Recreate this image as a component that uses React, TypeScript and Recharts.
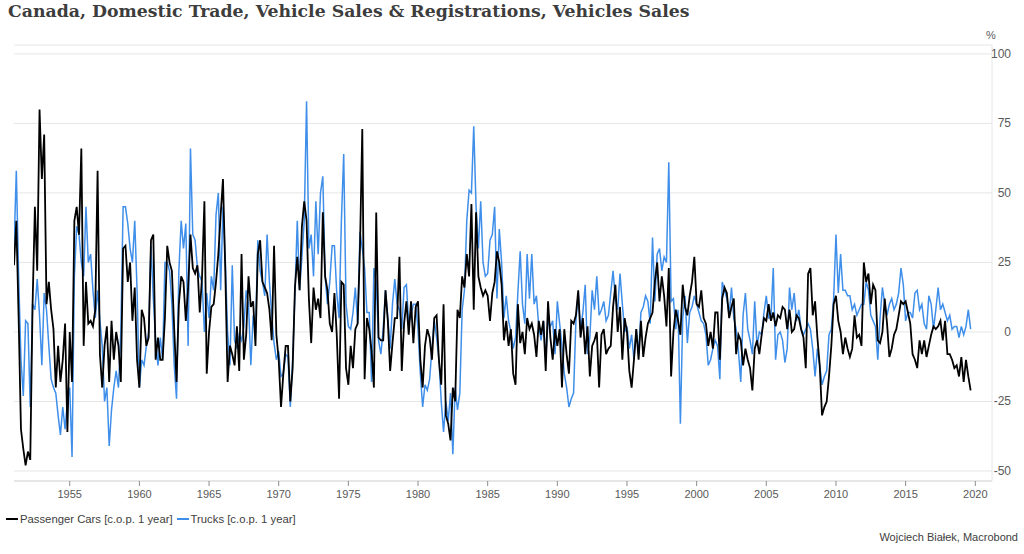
import { LineChart, Line, XAxis, YAxis, CartesianGrid } from 'recharts'

// monthly-ish series sampled every two months, starting Jan 1951
const START_YEAR = 1951
const STEPS_PER_YEAR = 6

// Passenger Cars [c.o.p. 1 year], %
const passengerCars = [
  24, 40, 5, -35, -42, -48, // 1951
  -43, -46, 10, 45, 22, 80, // 1952
  55, 71, 10, 18, 8, 1, // 1953
  -20, -5, -18, -10, 3, -36, // 1954
  0, -18, 40, 45, 35, 66, // 1955
  -5, 18, 3, 4, 2, 8, // 1956
  58, -8, -20, -5, 2, -18, // 1957
  4, -10, 0, -5, -18, 30, // 1958
  31, 18, 25, 4, 16, -10, // 1959
  -20, 8, 5, -5, -2, 33, // 1960
  35, -10, -2, -10, -10, 5, // 1961
  31, 25, 22, 1, -18, 10, // 1962
  20, 18, 4, 16, 35, 23, // 1963
  21, 24, 7, 20, 47, -15, // 1964
  0, 9, 10, 18, 28, 42, // 1965
  55, 22, -18, -5, -8, -12, // 1966
  2, -14, 28, -10, -1, 20, // 1967
  9, 11, -5, 28, 33, 18, // 1968
  16, 14, 8, -3, 31, -1, // 1969
  -10, -27, -15, -5, -5, -25, // 1970
  -13, 16, 27, 15, 38, 47, // 1971
  40, 12, -4, 16, 8, 12, // 1972
  5, 43, 20, 15, 3, 0, // 1973
  14, -1, -24, 18, 17, -13, // 1974
  -19, -5, -13, 1, 3, 30, // 1975
  73, -17, 5, 1, -7, -20, // 1976
  43, -2, -3, -3, 15, 4, // 1977
  -14, -4, 5, 5, 27, -14, // 1978
  3, 11, -1, 11, -4, 9, // 1979
  11, -10, -20, -5, 1, -2, // 1980
  -10, 5, 6, -10, -19, 10, // 1981
  -30, -33, -39, -20, -25, 8, // 1982
  5, 20, 16, 28, 20, 46, // 1983
  8, 43, 20, 16, 13, 15, // 1984
  13, 4, 14, 18, 29, 25, // 1985
  17, -3, 4, -5, 1, -15, // 1986
  -19, 10, -4, 0, -8, 5, // 1987
  1, 3, -1, -9, 4, -1, // 1988
  4, -14, 11, -2, -10, 1, // 1989
  -5, 1, -20, 1, -8, -15, // 1990
  4, 3, 6, 15, -2, 5, // 1991
  -8, 2, -16, -5, -3, 0, // 1992
  -20, -1, 1, -8, -6, -5, // 1993
  9, 17, 0, 9, -10, 5, // 1994
  0, -14, -20, -10, 1, -10, // 1995
  4, -9, -2, 3, 5, 7, // 1996
  18, 25, 11, 20, 13, 2, // 1997
  23, -16, 0, 8, 4, -1, // 1998
  17, 9, 6, 13, 18, 27, // 1999
  10, 9, 15, 5, 3, -5, // 2000
  0, -6, 7, 7, -10, 12, // 2001
  16, 14, 5, 9, 12, -8, // 2002
  -1, -3, -12, -6, -10, -13, // 2003
  -21, -6, -3, -8, -1, 5, // 2004
  4, 10, 4, 7, 2, 6, // 2005
  5, 9, 8, 1, 8, 0, // 2006
  1, 6, 5, 1, -2, -13, // 2007
  21, 23, 6, 11, -2, -12, // 2008
  -30, -27, -25, -16, -5, 10, // 2009
  13, 4, 0, -8, -2, -6, // 2010
  -9, -6, 6, -2, -1, -5, // 2011
  25, 18, 21, 10, 17, 15, // 2012
  -3, -4, 0, 12, 3, -9, // 2013
  -6, -1, 1, 6, 11, 10, // 2014
  11, 7, 3, -8, -10, -13, // 2015
  -3, -8, -3, -9, -5, -1, // 2016
  2, 1, 2, 4, -3, 4, // 2017
  -8, -8, -10, -13, -12, -16, // 2018
  -9, -18, -10, -16, -21, // 2019
]

// Trucks [c.o.p. 1 year], %
const trucks = [
  30, 58, 20, -10, -23, 4, // 1951
  3, -27, 10, 8, 19, 6, // 1952
  -12, 14, 8, -5, -17, -20, // 1953
  -22, -30, -37, -27, -35, -25, // 1954
  -20, -45, 20, 38, 35, 25, // 1955
  20, 45, 25, 28, 15, 5, // 1956
  15, 4, -5, -25, -20, -41, // 1957
  -28, -20, -14, -20, 0, 45, // 1958
  45, 39, 30, 25, 40, 15, // 1959
  -20, -10, -12, -5, 0, 31, // 1960
  12, -3, -12, -2, -10, 25, // 1961
  25, 22, 10, -12, -24, 22, // 1962
  40, 30, 39, -5, 66, 35, // 1963
  33, 23, 20, 18, 0, 14, // 1964
  5, 20, 15, 42, 50, 15, // 1965
  45, 26, 0, -12, 24, -3, // 1966
  -6, -1, -3, 2, 15, 10, // 1967
  -12, 6, -1, 33, 22, 18, // 1968
  13, 35, 18, 6, -4, -10, // 1969
  -7, -16, -15, -8, -9, -27, // 1970
  -10, 14, 40, 15, 27, 40, // 1971
  83, 30, 35, 20, 47, 28, // 1972
  50, 56, 20, 10, 18, 31, // 1973
  31, 14, 5, 40, 64, 10, // 1974
  2, 1, 7, 16, 3, 36, // 1975
  30, 23, 7, 7, -18, 23, // 1976
  18, -3, -8, 1, 15, 5, // 1977
  -6, 10, 19, 10, 8, 1, // 1978
  16, 17, 3, 6, 10, 10, // 1979
  1, -15, -27, -19, -21, -17, // 1980
  -6, 4, -2, -10, -25, -36, // 1981
  -25, -32, -22, -44, -20, -28, // 1982
  -22, 8, 15, 40, 51, 50, // 1983
  74, 45, 30, 47, 25, 20, // 1984
  21, 33, 35, 45, 12, 37, // 1985
  25, 5, 13, 4, 0, -6, // 1986
  -2, 14, 29, 10, 3, 28, // 1987
  12, 28, 10, 13, 2, -3, // 1988
  4, -10, 4, 2, 4, -8, // 1989
  11, 3, -5, -15, -20, -27, // 1990
  -24, -22, 4, 14, 1, 7, // 1991
  17, -8, -2, 15, 8, 20, // 1992
  6, 8, 11, 4, 6, 14, // 1993
  22, 12, 8, 21, 10, 0, // 1994
  2, -6, -1, -10, 1, -8, // 1995
  7, 9, 13, 11, 3, 34, // 1996
  11, 28, 30, 22, 27, 25, // 1997
  61, 11, 12, 1, 8, -33, // 1998
  5, 13, -4, 7, 9, 13, // 1999
  10, 7, 4, 3, -1, -12, // 2000
  -10, -6, -3, -5, -17, 18, // 2001
  15, 12, 6, 16, 5, 1, // 2002
  -7, -18, 6, 14, 1, -3, // 2003
  -8, 11, -5, 0, -1, 7, // 2004
  13, 5, 5, 23, -10, -1, // 2005
  0, -3, -11, -6, 16, 8, // 2006
  14, 4, 8, 1, -1, 1, // 2007
  3, 1, -6, -16, -6, -12, // 2008
  -19, -16, -14, -1, 1, 12, // 2009
  35, 14, 28, 15, 15, 13, // 2010
  13, 8, 10, 6, 8, 10, // 2011
  10, 18, 15, 6, 4, 2, // 2012
  -10, 5, 16, 10, 6, 10, // 2013
  12, 8, 10, 14, 23, 17, // 2014
  4, 7, 7, 5, 14, 15, // 2015
  8, 10, 3, 1, 13, 10, // 2016
  1, 8, 16, 8, 10, 7, // 2017
  4, 6, 1, 2, 2, -2, // 2018
  2, -1, 2, 8, 1, // 2019
]

const yearTicks = [1955, 1960, 1965, 1970, 1975, 1980, 1985, 1990, 1995, 2000, 2005, 2010, 2015, 2020]
const valueTicks = [-50, -25, 0, 25, 50, 75, 100]

const data = passengerCars.map((cars, i) => ({
  date: START_YEAR + i / STEPS_PER_YEAR,
  cars,
  trucks: trucks[i],
}))

const FONT = '"Liberation Sans", Arial, sans-serif'
const TEXT = '#595959'
const BLUE = '#3f8fea'

function YearTick({ x, y, payload }: any) {
  return (
    <text x={x} y={y + 10} textAnchor="middle" fontSize={11} fill={TEXT} fontFamily={FONT}>
      {payload.value}
    </text>
  )
}

function ValueTick({ x, y, payload }: any) {
  return (
    <text x={x + 11} y={y + 4} textAnchor="end" fontSize={12} fill={TEXT} fontFamily={FONT}>
      {payload.value}
    </text>
  )
}

function LegendItem({ color, label }: { color: string; label: string }) {
  return (
    <span style={{ display: 'inline-flex', alignItems: 'center', marginRight: 4 }}>
      <span style={{ display: 'inline-block', width: 12, height: 2, background: color, marginRight: 2 }} />
      {label}
    </span>
  )
}

export default function App() {
  return (
    <div style={{ position: 'absolute', left: 0, top: 0, width: 1024, height: 554, background: '#fff', fontFamily: FONT }}>
      <div
        style={{
          position: 'absolute',
          left: 8,
          top: 1,
          fontFamily: '"DejaVu Serif", Georgia, serif',
          fontWeight: 'bold',
          fontSize: 17.3,
          color: '#3d3d3d',
          whiteSpace: 'nowrap',
        }}
      >
        Canada, Domestic Trade, Vehicle Sales &amp; Registrations, Vehicles Sales
      </div>
      <div style={{ position: 'absolute', left: 986, top: 29, fontSize: 11, color: TEXT }}>%</div>

      <LineChart
        width={1024}
        height={554}
        data={data}
        margin={{ top: 45, right: 0, bottom: 48, left: 14 }}
      >
        <CartesianGrid horizontal vertical={false} stroke="#e6e6e6" />
        <XAxis
          dataKey="date"
          type="number"
          domain={[1951, 2021.2]}
          ticks={yearTicks}
          allowDataOverflow
          height={25}
          axisLine={{ stroke: '#d9d9d9' }}
          tickLine={{ stroke: '#8c8c8c' }}
          tickSize={5}
          tick={<YearTick />}
        />
        <YAxis
          orientation="right"
          domain={[-53.6, 103.2]}
          ticks={valueTicks}
          allowDataOverflow
          width={32}
          axisLine={{ stroke: '#e6e6e6' }}
          tickLine={false}
          tick={<ValueTick />}
        />
        <Line
          dataKey="trucks"
          type="linear"
          stroke={BLUE}
          strokeWidth={1.5}
          dot={false}
          isAnimationActive={false}
        />
        <Line
          dataKey="cars"
          type="linear"
          stroke="#000000"
          strokeWidth={1.8}
          dot={false}
          isAnimationActive={false}
        />
      </LineChart>

      <div style={{ position: 'absolute', left: 6, top: 510, fontSize: 11.3, color: '#404040', whiteSpace: 'nowrap' }}>
        <LegendItem color="#000000" label="Passenger Cars [c.o.p. 1 year]" />
        <LegendItem color={BLUE} label="Trucks [c.o.p. 1 year]" />
      </div>
      <div style={{ position: 'absolute', right: 6, top: 531, fontSize: 11, color: '#404040', whiteSpace: 'nowrap' }}>
        Wojciech Białek, Macrobond
      </div>
    </div>
  )
}
